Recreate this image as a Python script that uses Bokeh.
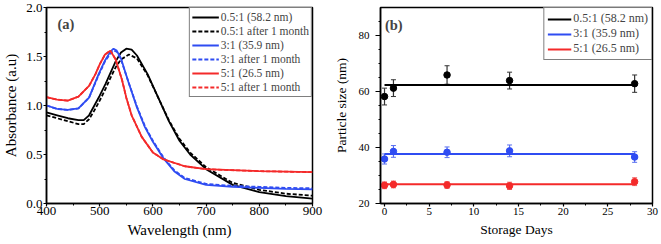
from bokeh.plotting import figure
from bokeh.layouts import row
from bokeh.models import (Legend, LegendItem, Label, Whisker, ColumnDataSource, Range1d,
                          FixedTicker, PrintfTickFormatter)
from bokeh.embed import file_html
from bokeh.resources import INLINE

# ---------- data panel (a) ----------
wl_black = [400, 420, 440, 460, 470, 480, 490, 500, 511, 520, 530, 540, 550, 560, 570, 590, 610, 630, 650, 670, 700, 750, 800, 850, 900]
abs_black = [0.93, 0.90, 0.87, 0.85, 0.85, 0.90, 1.00, 1.10, 1.22, 1.33, 1.45, 1.54, 1.58, 1.57, 1.51, 1.32, 1.08, 0.84, 0.64, 0.50, 0.35, 0.19, 0.115, 0.075, 0.05]
wl_black_m = [400, 420, 440, 460, 470, 480, 490, 500, 511, 520, 530, 540, 555, 570, 590, 610, 630, 650, 670, 700, 750, 800, 850, 900]
abs_black_m = [0.90, 0.87, 0.84, 0.81, 0.81, 0.86, 0.95, 1.05, 1.17, 1.28, 1.39, 1.47, 1.52, 1.48, 1.31, 1.08, 0.85, 0.66, 0.52, 0.37, 0.21, 0.14, 0.10, 0.08]
wl_blue = [400, 420, 440, 460, 480, 498, 510, 520, 526, 532, 540, 554, 570, 585, 600, 620, 640, 660, 700, 750, 800, 850, 900]
abs_blue = [1.00, 0.965, 0.955, 0.97, 1.08, 1.32, 1.46, 1.55, 1.58, 1.56, 1.48, 1.24, 0.98, 0.78, 0.63, 0.46, 0.33, 0.25, 0.19, 0.17, 0.16, 0.15, 0.145]
abs_blue_m = [1.00, 0.965, 0.955, 0.97, 1.08, 1.31, 1.45, 1.53, 1.56, 1.55, 1.47, 1.24, 0.99, 0.79, 0.64, 0.47, 0.34, 0.26, 0.20, 0.18, 0.17, 0.16, 0.155]
wl_red = [400, 420, 440, 460, 480, 492, 500, 510, 520, 530, 542, 550, 560, 579, 600, 620, 660, 700, 800, 900]
abs_red = [1.085, 1.06, 1.05, 1.09, 1.20, 1.32, 1.42, 1.52, 1.56, 1.47, 1.26, 1.08, 0.90, 0.68, 0.52, 0.45, 0.38, 0.35, 0.33, 0.32]
abs_red_m = [1.085, 1.06, 1.05, 1.09, 1.20, 1.32, 1.42, 1.52, 1.56, 1.47, 1.26, 1.08, 0.90, 0.68, 0.52, 0.45, 0.38, 0.35, 0.33, 0.32]

# ---------- data panel (b) ----------
days = [0, 1, 7, 14, 28]
size_black = [58.2, 61.2, 65.9, 63.9, 62.8]
err_black = [3.0, 3.0, 3.3, 3.0, 3.1]
size_blue = [35.9, 38.6, 38.3, 38.8, 36.6]
err_blue = [1.8, 2.1, 1.9, 2.1, 1.9]
size_red = [26.5, 26.8, 26.6, 26.3, 27.8]
err_red = [1.2, 1.2, 1.2, 1.3, 1.4]
fit_days = [0, 28]
fit_black = [62.3, 62.3]
fit_blue = [37.7, 37.7]
fit_red = [26.9, 26.9]

BLACK = "#000000"
BLUE = "#2f4cf2"
RED = "#f42a2a"
FONT = "Liberation Serif"


def style(p, tick_size, label_size):
    p.outline_line_color = "black"
    p.outline_line_width = 1.5
    p.xgrid.visible = False
    p.ygrid.visible = False
    for ax in (p.xaxis[0], p.yaxis[0]):
        ax.axis_line_width = 1.5
        ax.major_tick_in = 0
        ax.minor_tick_in = 0
        ax.minor_tick_out = 2
        ax.major_tick_line_width = 1.2
        ax.minor_tick_line_width = 1.0
        ax.major_label_text_font = FONT
        ax.major_label_text_font_size = tick_size
        ax.major_label_text_color = "black"
        ax.axis_label_text_font = FONT
        ax.axis_label_text_font_size = label_size
        ax.axis_label_text_font_style = "normal"
        ax.axis_label_text_color = "black"
    p.background_fill_color = "white"
    p.border_fill_color = "white"


# ---------- panel (a) ----------
pa = figure(width=330, height=244, output_backend="svg", toolbar_location=None,
            x_range=Range1d(400, 900), y_range=Range1d(0, 2.0),
            min_border_left=44, min_border_right=18, min_border_top=7, min_border_bottom=41)
style(pa, "13px", "15px")
pa.xaxis.axis_label = "Wavelength (nm)"
pa.yaxis.axis_label = "Absorbance (a.u)"
pa.xaxis.ticker = FixedTicker(ticks=[400, 500, 600, 700, 800, 900], minor_ticks=[450, 550, 650, 750, 850])
pa.yaxis.ticker = FixedTicker(ticks=[0, 0.5, 1.0, 1.5, 2.0], minor_ticks=[0.25, 0.75, 1.25, 1.75])
pa.yaxis.formatter = PrintfTickFormatter(format="%.1f")
pa.xaxis.major_tick_out = 3
pa.xaxis.major_label_standoff = 0
pa.xaxis.axis_label_standoff = 4
pa.yaxis.major_tick_out = 3
pa.yaxis.major_label_standoff = 1
pa.yaxis.axis_label_standoff = 4

lw = 1.8
r1 = pa.line(wl_black, abs_black, line_color=BLACK, line_width=lw)
r2 = pa.line(wl_black_m, abs_black_m, line_color=BLACK, line_width=lw, line_dash="4 2")
r3 = pa.line(wl_blue, abs_blue, line_color=BLUE, line_width=lw)
r4 = pa.line(wl_blue, abs_blue_m, line_color=BLUE, line_width=lw, line_dash="4 2")
r6 = pa.line(wl_red, abs_red_m, line_color=RED, line_width=lw, line_dash="4 2")
r5 = pa.line(wl_red, abs_red, line_color=RED, line_width=lw)

leg_a = Legend(items=[
    LegendItem(label="0.5:1 (58.2 nm)", renderers=[r1]),
    LegendItem(label="0.5:1 after 1 month", renderers=[r2]),
    LegendItem(label="3:1 (35.9 nm)", renderers=[r3]),
    LegendItem(label="3:1 after 1 month", renderers=[r4]),
    LegendItem(label="5:1 (26.5 nm)", renderers=[r5]),
    LegendItem(label="5:1 after 1 month", renderers=[r6]),
], location="top_right", margin=0, padding=2, spacing=0,
    label_text_font=FONT, label_text_font_size="11.5px", label_height=14, glyph_height=14,
    glyph_width=27, label_standoff=2, border_line_color="black", border_line_width=1,
    background_fill_alpha=1.0)
pa.add_layout(leg_a)
pa.add_layout(Label(x=420.5, y=1.827, text="(a)", text_font=FONT, text_font_size="14.5px",
                    text_font_style="bold", text_baseline="middle"))

# ---------- panel (b) ----------
pb = figure(width=331, height=244, output_backend="svg", toolbar_location=None,
            x_range=Range1d(-0.45, 30), y_range=Range1d(20, 90),
            min_border_left=48, min_border_right=9, min_border_top=7, min_border_bottom=41)
style(pb, "11px", "13.5px")
pb.xaxis.axis_label = "Storage Days"
pb.yaxis.axis_label = "Particle size (nm)"
pb.xaxis.ticker = FixedTicker(ticks=[0, 5, 10, 15, 20, 25, 30], minor_ticks=[2.5, 7.5, 12.5, 17.5, 22.5, 27.5])
pb.yaxis.ticker = FixedTicker(ticks=[20, 40, 60, 80], minor_ticks=[25, 30, 35, 45, 50, 55, 65, 70, 75, 85])
pb.xaxis.major_tick_out = 3
pb.xaxis.major_label_standoff = 1
pb.xaxis.axis_label_standoff = 4
pb.yaxis.major_tick_out = 5
pb.yaxis.major_label_standoff = 6
pb.yaxis.axis_label_standoff = 7

groups = [(size_black, err_black, fit_black, BLACK, "#333333", "0.5:1 (58.2 nm)"),
          (size_blue, err_blue, fit_blue, BLUE, "#5a70f0", "3:1 (35.9 nm)"),
          (size_red, err_red, fit_red, RED, "#f06060", "5:1 (26.5 nm)")]
items_b = []
for vals, errs, fit, col, ecol, lab in groups:
    src = ColumnDataSource(dict(x=days, y=vals,
                                lo=[v - e for v, e in zip(vals, errs)],
                                hi=[v + e for v, e in zip(vals, errs)]))
    w = Whisker(source=src, base="x", upper="hi", lower="lo", line_color=ecol, line_width=1.2)
    w.upper_head.size = 5
    w.lower_head.size = 5
    w.upper_head.line_color = ecol
    w.lower_head.line_color = ecol
    pb.add_layout(w)
    rl = pb.line(fit_days, fit, line_color=col, line_width=2)
    pb.scatter("x", "y", source=src, size=6.5, color=col)
    items_b.append(LegendItem(label=lab, renderers=[rl]))

leg_b = Legend(items=items_b, location="top_right", margin=0, padding=3, spacing=0,
               label_text_font=FONT, label_text_font_size="12px", label_height=12, glyph_height=12,
               glyph_width=24, label_standoff=2, border_line_color="black", border_line_width=1)
pb.add_layout(leg_b)
pb.add_layout(Label(x=0.04, y=83.9, text="(b)", text_font=FONT, text_font_size="14.5px",
                    text_font_style="bold", text_baseline="middle"))

layout = row(pa, pb, spacing=0)
open("out.html", "w").write(file_html(layout, INLINE))
